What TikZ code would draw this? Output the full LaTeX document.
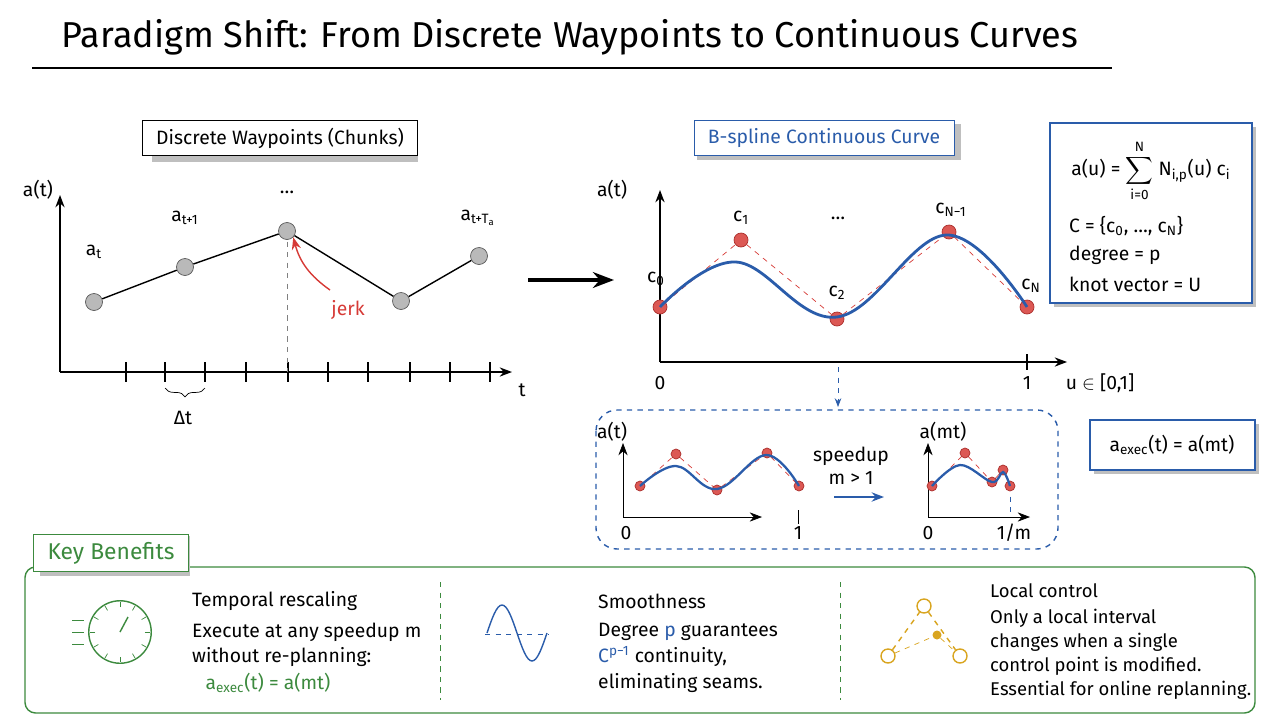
\documentclass[tikz,border=0pt]{standalone}
\usepackage{fontspec}
\setmainfont{Fira Sans}
\usepackage{amsmath}
\usepackage{xcolor}
\usetikzlibrary{positioning,arrows.meta,decorations.pathreplacing,calc}
\definecolor{bblue}{HTML}{2A5CAA}
\definecolor{rred}{HTML}{D63A36}
\definecolor{ggreen}{HTML}{3C8A3E}
\definecolor{ggold}{HTML}{D9A520}
\newcommand{\sbs}[1]{\textsubscript{#1}}
\begin{document}
\begin{tikzpicture}[x=0.02cm, y=-0.02cm,
  txt/.style={font=\fontsize{11}{13}\selectfont},
  title/.style={draw, fill=white, minimum height=0.7cm, inner xsep=8pt, font=\fontsize{11}{13}\selectfont},
  shadow/.style={fill=gray!50},
  gdot/.style={circle, draw=gray!70!black, fill=gray!55, minimum size=0.34cm, inner sep=0pt},
  rdot/.style={circle, draw=rred!80!black, fill=rred!85, minimum size=0.28cm, inner sep=0pt},
  sdot/.style={circle, draw=rred!80!black, fill=rred!85, minimum size=0.2cm, inner sep=0pt},
  axis/.style={-{Stealth[length=7pt]}, thick},
  ctrl/.style={dashed, rred, thin},
  spline/.style={bblue, line width=1.6pt}
]
\useasboundingbox (0,0) rectangle (1280,720);

% Title
\node[font=\fontsize{20.5}{24}\selectfont] (ttl) at (570,37) {Paradigm Shift: From Discrete Waypoints to Continuous Curves};
\draw[thick] (32,68) -- (1112,68);

% Discrete waypoints
\fill[shadow] (152,124) rectangle (418,162);
\node[title] (dtitle) at (280,138) {Discrete Waypoints (Chunks)};
\coordinate (o1) at (60,372);
\draw[axis] (o1) -- (60,195);
\draw[axis] (o1) -- (512,372);
\node[txt] (at1) at (38,190) {a(t)};
\node[txt] (t1) at (522,390) {t};
\foreach \x in {126,165,205,246,288,328,368,410,450,490}
  \draw[thick] (\x,362) -- (\x,382);
\draw[dashed, gray] (287,231) -- (287,372);
\node[gdot] (w1) at (94,302) {};
\node[gdot] (w2) at (185,267) {};
\node[gdot] (w3) at (287,231) {};
\node[gdot] (w4) at (401,301) {};
\node[gdot] (w5) at (479,256) {};
\draw[thick] (w1) -- (w2) -- (w3) -- (w4) -- (w5);
\node[txt] (lw1) at (94,252) {a\sbs{t}};
\node[txt] (lw2) at (185,218) {a\sbs{t+1}};
\node[txt] (lw3) at (287,192) {\dots};
\node[txt] (lw5) at (478,218) {a\sbs{t+T\sbs{a}}};
\coordinate (jk) at (330,290);
\draw[-{Stealth[length=7pt]}, rred, thick] (jk) to[bend left=20] (w3.south east);
\node[txt, text=rred] (jerk) at (348,310) {jerk};
\draw[decorate, decoration={brace, mirror, amplitude=5pt}] (165,388) -- (205,388);
\node[txt] (dt) at (183,418) {Δt};

% Shift arrow
\coordinate (sa) at (528,280);
\coordinate (sb) at (614,280);
\draw[-{Stealth[length=12pt]}, line width=2pt] (sa) -- (sb);

% B-spline curve
\fill[shadow] (697,124) rectangle (961,160);
\node[title, draw=bblue, text=bblue] (btitle) at (824,138) {B-spline Continuous Curve};
\coordinate (o2) at (660,362);
\draw[axis] (o2) -- (660,190);
\draw[axis] (o2) -- (1067,362);
\draw[thick] (1027,354) -- (1027,370);
\node[txt] (at2) at (612,190) {a(t)};
\node[txt] (z2) at (660,383) {0};
\node[txt] (u2) at (1027,383) {1};
\node[txt] (ur) at (1100,383) {u $\in$ [0,1]};
\node[rdot] (c0) at (660,307) {};
\node[rdot] (c1) at (741,240) {};
\node[rdot] (c2) at (837,319) {};
\node[rdot] (c3) at (949,232) {};
\node[rdot] (c4) at (1027,307) {};
\draw[ctrl] (c0) -- (c1) -- (c2) -- (c3) -- (c4);
\draw[spline] plot[smooth, tension=0.65] coordinates {(660,307) (736,262) (837,317) (946,235) (1027,307)};
\node[txt] (lc0) at (656,279) {c\sbs{0}};
\node[txt] (lc1) at (741,218) {c\sbs{1}};
\node[txt] (lc2) at (837,293) {c\sbs{2}};
\node[txt] (lc3) at (951,210) {c\sbs{N−1}};
\node[txt] (lc4) at (1031,286) {c\sbs{N}};
\node[txt] (dots) at (838,218) {\dots};

% Formula box
\fill[shadow] (1054,127) rectangle (1256,307);
\draw[bblue, thick, fill=white] (1050,123) rectangle (1252,303);
\node[txt] (f1) at (1151,171) {a(u) = $\displaystyle\sum_{\text{i=0}}^{\text{N}}$ N\sbs{i,p}(u) c\sbs{i}};
\node[txt, anchor=west] (f2) at (1063,226) {C = \{c\sbs{0}, \dots, c\sbs{N}\}};
\node[txt, anchor=west] (f3) at (1063,255) {degree = p};
\node[txt, anchor=west] (f4) at (1063,284) {knot vector = U};

% Speedup panel
\coordinate (da) at (838,367);
\coordinate (db) at (838,407);
\draw[-{Stealth[length=5pt]}, dashed, bblue] (da) -- (db);
\draw[dashed, bblue, rounded corners=12pt, thick] (596,410) rectangle (1058,549);
\coordinate (o3) at (623,517);
\draw[axis, thin] (o3) -- (623,443);
\draw[axis, thin] (o3) -- (762,517);
\draw (798,510) -- (798,524);
\node[txt] (at3) at (612,432) {a(t)};
\node[txt] (z3) at (626,533) {0};
\node[txt] (u3) at (798,533) {1};
\node[sdot] (m0) at (640,486) {};
\node[sdot] (m1) at (676,454) {};
\node[sdot] (m2) at (717,490) {};
\node[sdot] (m3) at (767,453) {};
\node[sdot] (m4) at (799,486) {};
\draw[ctrl] (m0) -- (m1) -- (m2) -- (m3) -- (m4);
\draw[spline, line width=1.3pt] plot[smooth, tension=0.65] coordinates {(640,486) (676,466) (717,489) (766,455) (799,486)};
\node[txt, align=center] (spd) at (851,466) {speedup\\m > 1};
\coordinate (ea) at (834,497);
\coordinate (eb) at (884,497);
\draw[-{Stealth[length=7pt]}, bblue, line width=1.5pt] (ea) -- (eb);
\coordinate (o4) at (928,517);
\draw[axis, thin] (o4) -- (928,443);
\draw[axis, thin] (o4) -- (1030,517);
\draw[dashed, bblue] (1010,486) -- (1010,517);
\node[txt] (at4) at (943,432) {a(mt)};
\node[txt] (z4) at (928,533) {0};
\node[txt] (u4) at (1014,533) {1/m};
\node[sdot] (n0) at (932,486) {};
\node[sdot] (n1) at (965,453) {};
\node[sdot] (n2) at (992,482) {};
\node[sdot] (n3) at (1003,470) {};
\node[sdot] (n4) at (1010,486) {};
\draw[ctrl] (n0) -- (n1) -- (n2) -- (n3) -- (n4);
\draw[spline, line width=1.3pt] plot[smooth, tension=0.6] coordinates {(932,486) (960,465) (992,482) (1003,472) (1010,486)};

% Exec box
\fill[shadow] (1094,424) rectangle (1259,474);
\draw[bblue, thick, fill=white] (1090,420) rectangle (1255,470);
\node[txt] (exec) at (1172,445) {a\sbs{exec}(t) = a(mt)};

% Key benefits
\draw[ggreen, thick, rounded corners=6pt, fill=white] (25,567) rectangle (1255,713);
\fill[shadow] (40,536) rectangle (190,576);
\node[title, draw=ggreen, text=ggreen, font=\fontsize{13}{15}\selectfont, minimum height=0.75cm] (kb) at (111,553) {Key Benefits};
\draw[dashed, ggreen] (440,582) -- (440,700);
\draw[dashed, ggreen] (840,582) -- (840,700);

% Stopwatch icon
\node[circle, draw=ggreen, thick, minimum size=1.25cm] (clk) at (120,632) {};
\foreach \a in {0,30,...,330}
  \draw[ggreen] ($(120,632)+(\a:0.5cm)$) -- ($(120,632)+(\a:0.6cm)$);
\draw[ggreen, thick] (120,632) -- (128,617);
\foreach \y in {620,632,644}
  \draw[ggreen] (72,\y) -- (84,\y);
\node[txt, anchor=west] (h1) at (186,601) {Temporal rescaling};
\node[txt, anchor=west] (b11) at (186,632) {Execute at any speedup m};
\node[txt, anchor=west] (b12) at (186,657) {without re-planning:};
\node[txt, text=ggreen] (b13) at (268,683) {a\sbs{exec}(t) = a(mt)};

% Sine icon
\draw[bblue, thick] (487,633) sin (502,605) cos (517,633) sin (532,661) cos (547,633);
\draw[bblue, dashed] (485,634) -- (549,634);
\node[txt, anchor=west] (h2) at (592,601) {Smoothness};
\node[txt, anchor=west] (b21) at (592,632) {Degree \textcolor{bblue}{p} guarantees};
\node[txt, anchor=west] (b22) at (592,657) {\textcolor{bblue}{C\textsuperscript{p−1}} continuity,};
\node[txt, anchor=west] (b23) at (592,683) {eliminating seams.};

% Local control icon
\node[circle, draw=ggold, thick, minimum size=0.28cm, inner sep=0pt] (l1) at (924,606) {};
\node[circle, draw=ggold, thick, minimum size=0.28cm, inner sep=0pt] (l2) at (888,656) {};
\node[circle, draw=ggold, thick, minimum size=0.28cm, inner sep=0pt] (l3) at (960,656) {};
\node[circle, fill=ggold, minimum size=0.18cm, inner sep=0pt] (l4) at (937,635) {};
\draw[ggold, dashed, thick] (l2) -- (l1) -- (l3);
\draw[ggold, dashed] (l2) -- (l4) -- (l3);
\node[txt, anchor=west, font=\fontsize{10.5}{12}\selectfont] (h3) at (984,591) {Local control};
\node[txt, anchor=west, font=\fontsize{10.5}{12}\selectfont] (b31) at (984,618) {Only a local interval};
\node[txt, anchor=west, font=\fontsize{10.5}{12}\selectfont] (b32) at (984,642) {changes when a single};
\node[txt, anchor=west, font=\fontsize{10.5}{12}\selectfont] (b33) at (984,666) {control point is modified.};
\node[txt, anchor=west, font=\fontsize{10.5}{12}\selectfont] (b34) at (984,690) {Essential for online replanning.};
\end{tikzpicture}
\end{document}
